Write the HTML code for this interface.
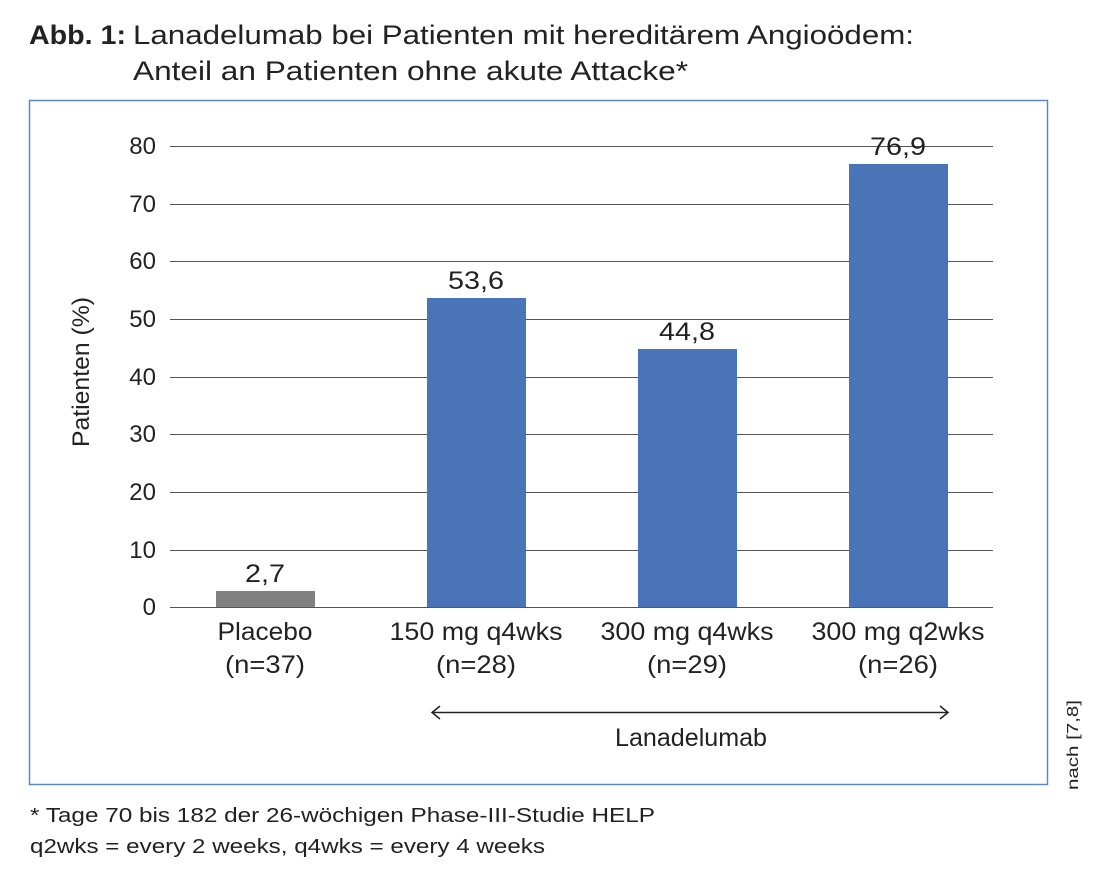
<!DOCTYPE html>
<html><head><meta charset="utf-8"><style>
html,body{margin:0;padding:0;background:#fff;}
svg{display:block;}
text{font-family:"Liberation Sans",sans-serif;fill:#222;}
</style></head><body>
<svg width="1100" height="882" viewBox="0 0 1100 882" xmlns="http://www.w3.org/2000/svg">
<text x="29" y="44" font-size="27" font-weight="bold" textLength="97" lengthAdjust="spacingAndGlyphs">Abb. 1:</text>
<text x="133" y="44" font-size="27" textLength="781" lengthAdjust="spacingAndGlyphs">Lanadelumab bei Patienten mit hereditärem Angioödem:</text>
<text x="133" y="80" font-size="27" textLength="555" lengthAdjust="spacingAndGlyphs">Anteil an Patienten ohne akute Attacke*</text>
<rect x="29.5" y="100.5" width="1018" height="684" fill="none" stroke="#5a87c8" stroke-width="1.5"/>
<g stroke="#555" stroke-width="1">
<line x1="170" y1="146.5" x2="993" y2="146.5"/>
<line x1="170" y1="204.5" x2="993" y2="204.5"/>
<line x1="170" y1="261.5" x2="993" y2="261.5"/>
<line x1="170" y1="319.5" x2="993" y2="319.5"/>
<line x1="170" y1="377.5" x2="993" y2="377.5"/>
<line x1="170" y1="434.5" x2="993" y2="434.5"/>
<line x1="170" y1="492.5" x2="993" y2="492.5"/>
<line x1="170" y1="550.5" x2="993" y2="550.5"/>
<line x1="170" y1="607.5" x2="993" y2="607.5"/>
</g>
<g font-size="24" text-anchor="end">
<text x="156" y="154">80</text><text x="156" y="212">70</text><text x="156" y="269">60</text>
<text x="156" y="327">50</text><text x="156" y="385">40</text><text x="156" y="442">30</text>
<text x="156" y="500">20</text><text x="156" y="558">10</text><text x="156" y="615">0</text>
</g>
<text transform="translate(89,372) rotate(-90)" font-size="24" text-anchor="middle" textLength="150" lengthAdjust="spacingAndGlyphs">Patienten (%)</text>
<rect x="216" y="591" width="99" height="16" fill="#808080"/>
<rect x="427" y="298" width="99" height="309" fill="#4a74b8"/>
<rect x="638" y="349" width="99" height="258" fill="#4a74b8"/>
<rect x="849" y="164" width="99" height="443" fill="#4a74b8"/>
<g font-size="25" text-anchor="middle">
<text x="265" y="582" textLength="40" lengthAdjust="spacingAndGlyphs">2,7</text>
<text x="476" y="289" textLength="56" lengthAdjust="spacingAndGlyphs">53,6</text>
<text x="687" y="340" textLength="56" lengthAdjust="spacingAndGlyphs">44,8</text>
<text x="898" y="155" textLength="56" lengthAdjust="spacingAndGlyphs">76,9</text>
<text x="265" y="640" textLength="95" lengthAdjust="spacingAndGlyphs">Placebo</text><text x="265" y="673" textLength="80" lengthAdjust="spacingAndGlyphs">(n=37)</text>
<text x="476" y="640" textLength="173" lengthAdjust="spacingAndGlyphs">150 mg q4wks</text><text x="476" y="673" textLength="80" lengthAdjust="spacingAndGlyphs">(n=28)</text>
<text x="687" y="640" textLength="173" lengthAdjust="spacingAndGlyphs">300 mg q4wks</text><text x="687" y="673" textLength="80" lengthAdjust="spacingAndGlyphs">(n=29)</text>
<text x="898" y="640" textLength="173" lengthAdjust="spacingAndGlyphs">300 mg q2wks</text><text x="898" y="673" textLength="80" lengthAdjust="spacingAndGlyphs">(n=26)</text>
<text x="691" y="746" textLength="152" lengthAdjust="spacingAndGlyphs">Lanadelumab</text>
</g>
<line x1="432" y1="712.5" x2="948" y2="712.5" stroke="#222" stroke-width="1.5"/>
<polyline points="440,706 432,712.5 440,719" fill="none" stroke="#222" stroke-width="1.5"/>
<polyline points="940,706 948,712.5 940,719" fill="none" stroke="#222" stroke-width="1.5"/>
<text transform="translate(1078,790) rotate(-90)" font-size="16" fill="#444" textLength="90" lengthAdjust="spacingAndGlyphs">nach [7,8]</text>
<text x="30" y="822" font-size="20" textLength="625" lengthAdjust="spacingAndGlyphs">* Tage 70 bis 182 der 26-wöchigen Phase-III-Studie HELP</text>
<text x="30" y="853" font-size="20" textLength="515" lengthAdjust="spacingAndGlyphs">q2wks = every 2 weeks, q4wks = every 4 weeks</text>
</svg>
</body></html>
